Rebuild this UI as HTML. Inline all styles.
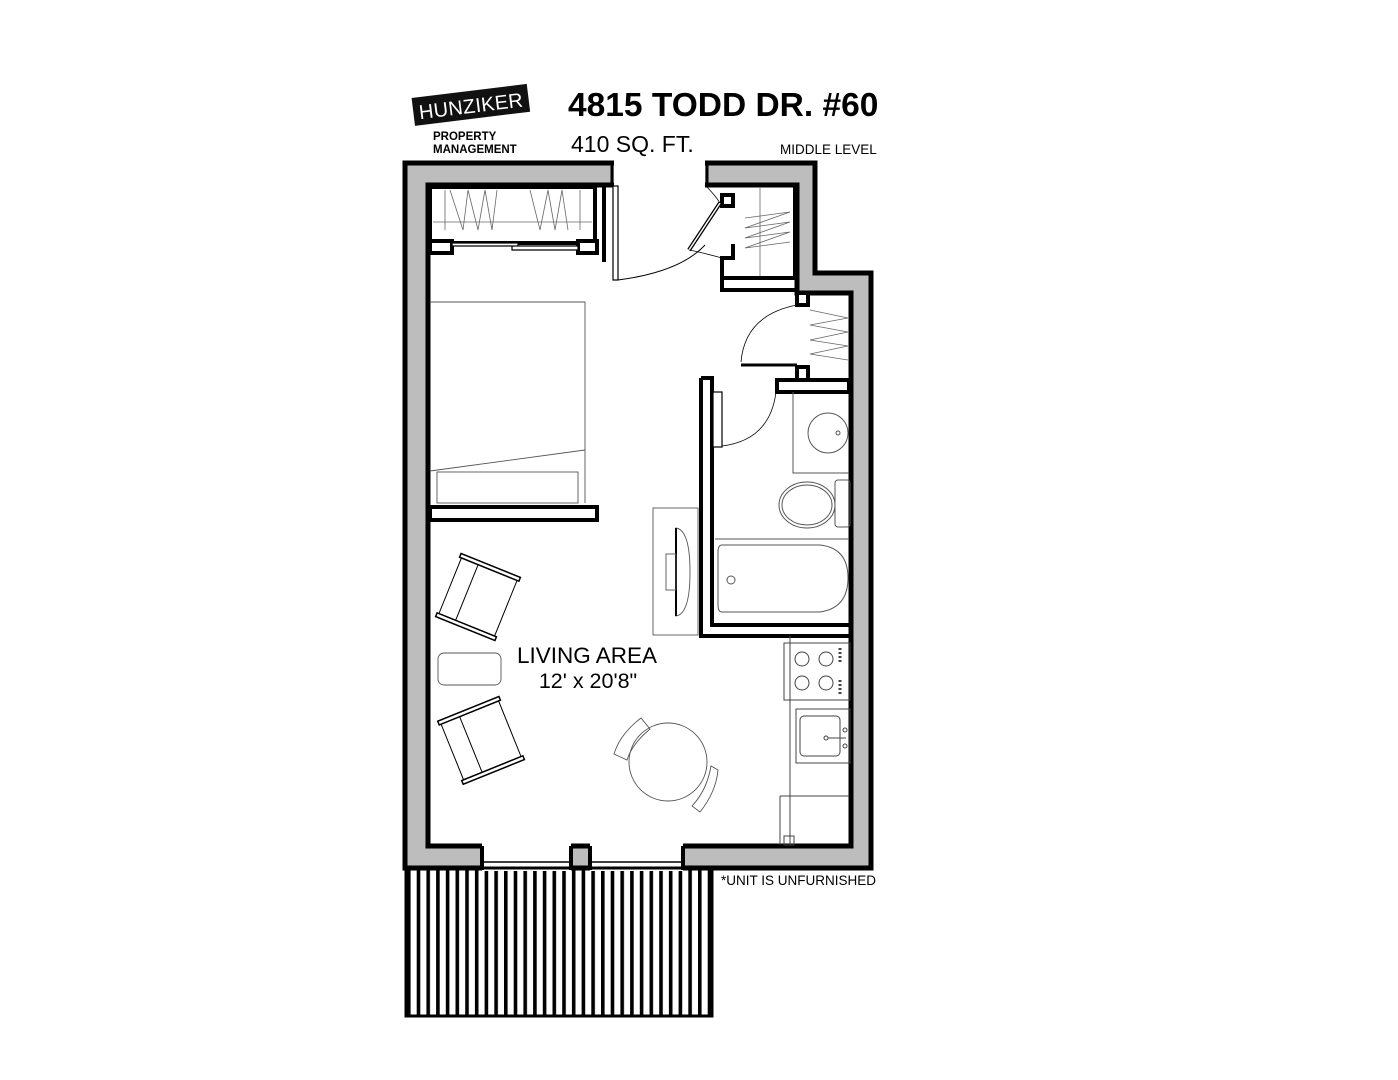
<!DOCTYPE html>
<html><head><meta charset="utf-8"><style>
html,body{margin:0;padding:0;background:#fff}
svg{display:block}
text{font-family:"Liberation Sans",sans-serif}
</style></head><body>
<svg width="1398" height="1080" viewBox="0 0 1398 1080" xmlns="http://www.w3.org/2000/svg">
<defs>
<pattern id="deck" x="407" y="0" width="9.7" height="10" patternUnits="userSpaceOnUse">
<rect x="0" y="0" width="3.6" height="10" fill="#000"/>
</pattern>
</defs>
<!-- logo -->
<g transform="rotate(-7 470 106)">
<rect x="413" y="91" width="116" height="28" fill="#111"/>
<text x="471" y="113" font-size="20" fill="#fff" text-anchor="middle" letter-spacing="0.3">HUNZIKER</text>
</g>
<text x="433" y="140" font-size="11.5" font-weight="bold">PROPERTY</text>
<text x="433" y="153" font-size="11.5" font-weight="bold">MANAGEMENT</text>
<text x="568" y="116" font-size="33.5" font-weight="bold">4815 TODD DR. #60</text>
<text x="571" y="152" font-size="23">410 SQ. FT.</text>
<text x="780" y="154" font-size="13.5">MIDDLE LEVEL</text>

<!-- deck -->
<rect x="405" y="868" width="307" height="148" fill="url(#deck)"/>
<rect x="406" y="868" width="306" height="148" fill="none" stroke="#000" stroke-width="3"/>

<!-- walls -->
<polygon points="405,163 815,163 815,273 871,273 871,868 405,868" fill="#bdbdbd" stroke="#000" stroke-width="5"/>
<polygon points="428,185 797,185 797,293 851,293 851,846 428,846" fill="#fff" stroke="#000" stroke-width="5"/>
<!-- door gap top -->
<rect x="614" y="158" width="91" height="30" fill="#fff"/>
<line x1="612" y1="163" x2="612" y2="185" stroke="#000" stroke-width="3"/>
<line x1="707" y1="163" x2="707" y2="185" stroke="#000" stroke-width="3"/>
<!-- windows bottom -->
<rect x="482" y="843" width="89" height="28" fill="#fff"/>
<rect x="590" y="843" width="93" height="28" fill="#fff"/>
<path d="M482,846V870M571,846V870M590,846V870M683,846V870" stroke="#000" stroke-width="4"/>
<path d="M484,862H569M592,862H681" stroke="#000" stroke-width="1.5"/>
<line x1="482" y1="868" x2="683" y2="868" stroke="#000" stroke-width="3"/>

<!-- left closet -->
<rect x="430" y="187" width="165" height="56" fill="#fff" stroke="#000" stroke-width="4"/>
<rect x="430" y="241" width="22" height="12" fill="#fff" stroke="#000" stroke-width="4"/>
<rect x="578" y="241" width="19" height="12" fill="#fff" stroke="#000" stroke-width="4"/>
<path d="M452,243H518V246H452ZM512,246H578V250H512Z" fill="#fff" stroke="#000" stroke-width="1.2"/>
<line x1="604" y1="185" x2="604" y2="262" stroke="#000" stroke-width="4"/>
<g stroke="#666" stroke-width="0.8" fill="none">
<line x1="433" y1="222" x2="592" y2="222"/>
<path d="M445,190V230M450,190L463,230L468,190L478,230L485,190L492,230L497,190M530,190L540,230L548,190L555,230L562,190L568,230M580,190V230"/>
</g>
<!-- front door -->
<rect x="613" y="186" width="5" height="94" fill="#fff" stroke="#000" stroke-width="1.2"/>
<path d="M618,280 Q680,272 705,245" fill="none" stroke="#000" stroke-width="1"/>

<!-- right upper closet -->
<path d="M708,185H795V278H722V258H733V244" fill="none" stroke="#000" stroke-width="4"/>
<path d="M722,195H733V206H722Z" fill="#fff" stroke="#000" stroke-width="4"/>
<path d="M722,278V290H797" fill="none" stroke="#000" stroke-width="4"/>
<line x1="720" y1="203" x2="689" y2="250" stroke="#000" stroke-width="4"/>
<line x1="720" y1="203" x2="689" y2="250" stroke="#fff" stroke-width="1.5"/>
<path d="M689,250 Q700,252 722,258" fill="none" stroke="#000" stroke-width="0.8"/>
<path d="M705,185 Q715,195 720,203" fill="none" stroke="#000" stroke-width="0.8"/>
<g stroke="#666" stroke-width="0.8" fill="none">
<line x1="760" y1="188" x2="760" y2="276"/>
<path d="M745,218L790,212L745,228L790,222L745,238L790,232L745,248L790,242"/>
</g>

<!-- second closet -->
<rect x="797" y="293" width="11" height="12" fill="#fff" stroke="#000" stroke-width="4"/>
<rect x="797" y="367" width="11" height="13" fill="#fff" stroke="#000" stroke-width="4"/>
<line x1="741" y1="365" x2="797" y2="365" stroke="#000" stroke-width="3"/>
<path d="M741,362 Q745,315 797,305" fill="none" stroke="#000" stroke-width="0.8"/>
<g stroke="#666" stroke-width="0.8" fill="none">
<path d="M810,310L848,318L810,325L848,332L810,340L848,346L810,354L848,360"/>
</g>

<!-- bathroom walls -->
<rect x="703" y="380" width="9" height="255" fill="#fff"/>
<path d="M701,378H712V392" fill="none" stroke="#000" stroke-width="4"/>
<path d="M701,378V636H851M712,392V625H851" fill="none" stroke="#000" stroke-width="4"/>
<rect x="777" y="380" width="72" height="12" fill="#fff" stroke="#000" stroke-width="4"/>
<rect x="713" y="392" width="9" height="55" fill="#fff" stroke="#000" stroke-width="1.2"/>
<path d="M722,446 Q770,440 776,392" fill="none" stroke="#000" stroke-width="0.8"/>
<g stroke="#555" stroke-width="1" fill="none">
<path d="M793,392V473H849"/>
<circle cx="828" cy="433" r="20"/>
<circle cx="838" cy="433" r="2"/>
<ellipse cx="807" cy="505" rx="28" ry="23"/>
<ellipse cx="807" cy="505" rx="25" ry="20"/>
<rect x="835" y="480" width="15" height="47" rx="3"/>
<path d="M715,539H849"/>
<path d="M722,545H820Q848,548 848,578Q848,608 820,612H722Q718,612 718,605V552Q718,545 722,545Z"/>
<circle cx="731" cy="580" r="4"/>
</g>

<!-- bedroom divider -->
<rect x="430" y="507" width="167" height="13" fill="#fff" stroke="#000" stroke-width="4"/>
<!-- bed -->
<g stroke="#555" stroke-width="0.9" fill="none">
<path d="M430,302H585V503"/>
<path d="M430,471L585,450"/>
<rect x="437" y="472" width="141" height="31"/>
<!-- TV/dresser -->
<rect x="653" y="508" width="45" height="127"/>
<path d="M676,528Q690,530 690,572Q690,614 676,616Z"/>
<line x1="676" y1="528" x2="676" y2="616" stroke="#000" stroke-width="2"/>
<rect x="666" y="554" width="10" height="36"/>
<!-- coffee table -->
<rect x="438" y="653" width="63" height="32" rx="6"/>
<!-- dining -->
<circle cx="668" cy="762" r="39"/>
<path d="M641,718Q620,734 614,754L627,760Q632,744 650,729Z"/>
<path d="M711,766Q707,790 692,806L700,812Q716,792 718,770Z"/>
</g>
<!-- chairs -->
<g stroke="#000" fill="none" stroke-width="1">
<g transform="rotate(22 478 597)">
<rect x="448" y="567" width="60" height="60"/>
<line x1="466" y1="567" x2="466" y2="627"/>
<rect x="446" y="563" width="64" height="4" stroke-width="1.5"/>
<rect x="446" y="627" width="64" height="4" stroke-width="1.5"/>
</g>
<g transform="rotate(-22 482 740)">
<rect x="450" y="710" width="62" height="60"/>
<line x1="470" y1="710" x2="470" y2="770"/>
<rect x="448" y="706" width="66" height="4" stroke-width="1.5"/>
<rect x="448" y="770" width="66" height="4" stroke-width="1.5"/>
</g>
</g>
<!-- kitchen -->
<g stroke="#444" stroke-width="1" fill="none">
<path d="M790,636V845"/>
<rect x="784" y="643" width="66" height="57"/>
<circle cx="802" cy="659" r="7"/><circle cx="826" cy="659" r="7"/>
<circle cx="802" cy="683" r="7"/><circle cx="826" cy="683" r="7"/>
<path d="M840,648V664M840,680V696" stroke-dasharray="2 2" stroke-width="3"/>
<rect x="796" y="709" width="54" height="54"/>
<rect x="800" y="716" width="40" height="40" rx="4"/>
<circle cx="826" cy="738" r="2"/><line x1="828" y1="738" x2="846" y2="738"/>
<circle cx="845" cy="730" r="2"/><circle cx="845" cy="746" r="2"/>
<path d="M790,796H849M780,796H790V845M780,796V845"/>
<rect x="784" y="836" width="10" height="9"/>
</g>

<text x="587" y="663" font-size="22.5" text-anchor="middle">LIVING AREA</text>
<text x="588" y="688" font-size="21.5" text-anchor="middle">12' x 20'8"</text>
<text x="721" y="885" font-size="13.5">*UNIT IS UNFURNISHED</text>
</svg>
</body></html>
